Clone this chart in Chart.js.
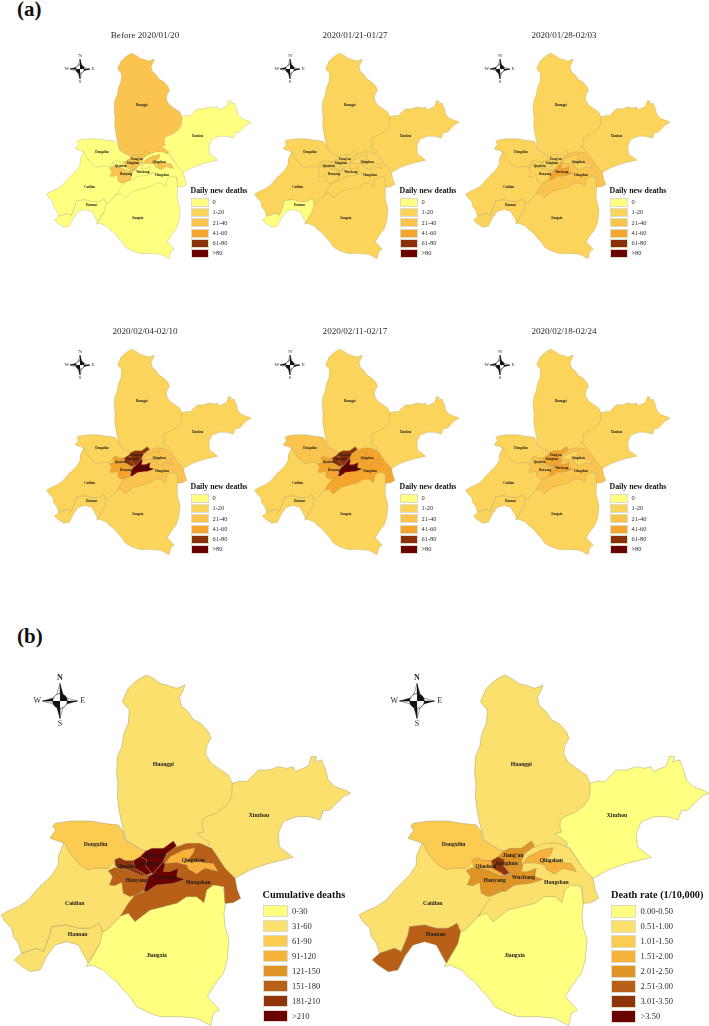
<!DOCTYPE html>
<html>
<head>
<meta charset="utf-8">
<title>Wuhan deaths maps</title>
<script src="https://cdn.jsdelivr.net/npm/chart.js@4"></script>
<style>
  html, body { margin: 0; padding: 0; background: #fff; overflow: hidden; }
  body { position: relative; width: 709px; height: 1026px; font-family: "Liberation Serif", serif; color: #2b2b2b; }
  canvas { position: absolute; }
  .txt { position: absolute; white-space: nowrap; line-height: 1; }
  .sw { position: absolute; box-sizing: border-box; border: 1px solid #dedbc8; }
  svg { position: absolute; overflow: visible; }
</style>
</head>
<body>
<script>
// ── District names, draw order is back to front ────────────
const districts = ["Xinzhou", "Jiangxia", "Caidian", "Hannan", "Dongxihu", "Huangpi", "Hongshan",
  "Qingshan", "Hanyang", "Qiaokou", "Jiang'an", "Jianghan", "Wuchang"];

// ── District outlines, [x, y] in map units ─────────────────
// edges shared with a later district run underneath it
const xinzhou = [[660,480],[697,490],[720,483],[740,485],[760,465],[775,450],[805,450],[835,440],[860,445],[880,440],[885,455],[925,438],[935,408],[950,410],[945,425],[965,420],[975,445],[985,480],[1005,500],[1040,512],[1052,520],[1030,530],[1005,555],[990,570],[970,572],[960,600],[945,595],[925,590],[890,590],[850,605],[835,640],[838,680],[880,712],[840,722],[800,732],[750,750],[705,775],[680,755],[640,690],[590,640],[590,560]];
const jiangxia = [[400,830],[362,888],[320,930],[305,935],[295,980],[265,1030],[258,1040],[275,1035],[310,1050],[335,1075],[350,1085],[370,1110],[390,1130],[410,1160],[450,1180],[480,1190],[540,1190],[590,1195],[632,1217],[640,1180],[658,1170],[645,1155],[622,1130],[640,1100],[670,1060],[682,1020],[687,960],[675,920],[672,880],[678,840],[665,790],[600,790]];
const caidian = [[3,885],[30,870],[55,860],[85,840],[110,810],[130,790],[155,765],[175,735],[175,710],[195,660],[300,680],[430,730],[440,810],[400,835],[362,888],[320,930],[305,935],[297,910],[280,925],[235,925],[200,915],[155,920],[150,945],[130,995],[110,985],[65,1000],[55,970],[40,950],[35,925],[15,905]];
const hannan = [[43,1020],[65,1000],[110,985],[130,995],[150,945],[155,920],[200,915],[235,925],[270,925],[297,910],[308,935],[300,970],[265,1030],[235,975],[200,965],[165,975],[140,1010],[120,1050],[90,1055],[60,1035]];
const dongxihu = [[165,610],[215,603],[270,603],[310,610],[355,615],[370,635],[375,660],[400,675],[425,690],[445,680],[450,722],[345,722],[325,745],[280,745],[265,750],[240,735],[210,700],[195,670],[165,660],[150,655],[160,640],[168,630],[158,620]];
const huangpi = [[440,165],[465,178],[480,190],[510,198],[530,205],[555,195],[548,215],[538,232],[545,258],[565,275],[580,298],[605,312],[625,335],[633,355],[620,378],[617,402],[632,428],[660,448],[685,465],[697,490],[695,530],[680,555],[650,578],[620,590],[607,600],[606,622],[612,636],[592,640],[605,652],[628,668],[620,690],[530,695],[465,700],[445,695],[428,690],[400,675],[378,660],[372,635],[365,610],[358,575],[352,530],[354,490],[350,465],[352,410],[365,380],[372,340],[385,310],[388,270],[367,245],[385,205],[400,190],[420,175]];
const hongshan = [[500,700],[520,685],[560,670],[600,670],[635,685],[655,715],[675,745],[705,775],[712,810],[722,835],[700,848],[675,850],[672,800],[640,795],[620,810],[612,848],[590,830],[560,830],[530,850],[490,860],[450,870],[405,905],[385,880],[362,888],[385,850],[405,825],[432,815],[470,795],[465,770],[490,725]];
const qingshan = [[495,730],[510,710],[550,690],[585,683],[580,700],[560,725],[600,722],[612,728],[640,730],[655,755],[615,745],[590,762],[565,748],[560,735],[530,728]];
const hanyang = [[325,752],[345,742],[355,745],[380,748],[425,768],[440,765],[458,762],[445,770],[432,812],[405,825],[390,830],[370,820],[365,787],[345,797],[328,795],[338,770]];
const qiaokou = [[345,718],[360,713],[375,722],[400,722],[405,745],[440,765],[425,768],[380,748],[355,745],[345,735]];
const jiangan = [[435,695],[455,685],[490,685],[520,663],[530,678],[500,700],[490,725],[458,762],[455,760],[435,735],[440,720],[420,710]];
const jianghan = [[400,722],[420,710],[440,720],[435,735],[455,760],[440,765],[405,745]];
const wuchang = [[490,725],[495,735],[490,755],[510,755],[535,745],[530,770],[555,778],[520,790],[470,795],[440,815],[432,812],[445,770],[458,762]];
const outlines = [xinzhou, jiangxia, caidian, hannan, dongxihu, huangpi, hongshan, qingshan, hanyang, qiaokou, jiangan, jianghan, wuchang];

// where each district name sits, map units, same order as districts
const labelAnchors = [[777,588],[470,1007],[224,852],[233,944],[287,673],[490,433],[595,788],[580,723],[410,783],[383,741],[465,707],[445,730],[496,774]];

// ── Legend classes and palettes ────────────────────────────
const dailyClasses = ["0", "1-20", "21-40", "41-60", "61-80", ">80"];
const dailyColors = ["#FFFF80", "#FCD45C", "#FAC44E", "#F5A52B", "#8C3008", "#6B0000"];
const cumClasses = ["0-30", "31-60", "61-90", "91-120", "121-150", "151-180", "181-210", ">210"];
const rateClasses = ["0.00-0.50", "0.51-1.00", "1.01-1.50", "1.51-2.00", "2.01-2.50", "2.51-3.00", "3.01-3.50", ">3.50"];
const eightColors = ["#FFFF80", "#FCE06E", "#FBCB52", "#F6B23A", "#E09426", "#B86017", "#8F3308", "#6B0000"];

// ── Class per district, same order as districts ────────────
const panelTitles = ["Before 2020/01/20", "2020/01/21-01/27", "2020/01/28-02/03", "2020/02/04-02/10", "2020/02/11-02/17", "2020/02/18-02/24"];
const before0120 = [0, 0, 0, 0, 0, 2, 0, 2, 2, 0, 2, 2, 0];
const jan21to27  = [1, 1, 1, 0, 1, 1, 1, 1, 1, 1, 1, 1, 1];
const jan28feb03 = [1, 1, 1, 1, 1, 1, 2, 1, 1, 1, 1, 1, 3];
const feb04to10  = [1, 1, 1, 1, 1, 1, 2, 2, 3, 3, 4, 4, 5];
const feb11to17  = [1, 1, 1, 1, 2, 1, 3, 3, 3, 3, 4, 4, 5];
const feb18to24  = [1, 1, 1, 1, 1, 1, 2, 1, 2, 2, 3, 3, 3];
const cumulative = [1, 0, 1, 1, 2, 1, 5, 3, 5, 6, 7, 7, 7];
const deathRate  = [0, 0, 1, 5, 2, 1, 1, 3, 4, 3, 4, 6, 4];

const MAP_W = 1056, MAP_H = 1218;

// district labels go through the map's scales
const districtLabels = {
  id: "districtLabels",
  afterDatasetsDraw(chart, args, opts) {
    const { ctx, scales } = chart;
    ctx.save();
    ctx.font = "bold " + opts.size + 'px "Liberation Serif"';
    ctx.fillStyle = "#1a1a1a";
    ctx.textAlign = "center";
    ctx.textBaseline = "middle";
    districts.forEach((name, i) => {
      const [x, y] = labelAnchors[i];
      ctx.fillText(name, scales.x.getPixelForValue(x), scales.y.getPixelForValue(y));
    });
    ctx.restore();
  },
};

function drawMap(left, top, scale, classes, colors, labelSize, lineWidth) {
  const canvas = document.createElement("canvas");
  canvas.width = Math.round(MAP_W * scale);
  canvas.height = Math.round(MAP_H * scale);
  canvas.style.left = left + "px";
  canvas.style.top = top + "px";
  document.body.appendChild(canvas);

  // Chart.js paints the last dataset first, so flip to keep the city on top
  const datasets = districts.map((name, i) => ({
    label: name,
    data: outlines[i].concat([outlines[i][0]]).map(([x, y]) => ({ x, y })),
    showLine: true,
    fill: "shape",
    backgroundColor: colors[classes[i]],
    borderColor: "rgba(150,140,100,0.7)",
    borderWidth: lineWidth,
    pointRadius: 0,
    tension: 0.001, // keeps the fast line path off, it drops vertices
  })).reverse();

  new Chart(canvas, {
    type: "scatter",
    data: { datasets },
    options: {
      responsive: false,
      animation: false,
      events: [],
      plugins: {
        legend: { display: false },
        tooltip: { enabled: false },
        districtLabels: { size: labelSize },
      },
      scales: {
        x: { type: "linear", min: 0, max: MAP_W, display: false },
        y: { type: "linear", min: 0, max: MAP_H, reverse: true, display: false },
      },
    },
    plugins: [districtLabels],
  });
}

function addText(str, x, y, size, opts) {
  const el = document.createElement("div");
  el.className = "txt";
  el.textContent = str;
  el.style.fontSize = size + "px";
  el.style.top = y - size / 2 + "px";
  el.style.left = x + "px";
  if (opts && opts.bold) el.style.fontWeight = "bold";
  if (opts && opts.color) el.style.color = opts.color;
  if (opts && opts.center) el.style.transform = "translateX(-50%)";
  document.body.appendChild(el);
}

function addLegend(title, classes, colors, x, y, g) {
  addText(title, x, y, g.titleSize, { bold: true, color: "#111" });
  classes.forEach((c, i) => {
    const sw = document.createElement("div");
    sw.className = "sw";
    sw.style.left = x + "px";
    sw.style.top = y + g.gap + i * g.step + "px";
    sw.style.width = g.w + "px";
    sw.style.height = g.h + "px";
    sw.style.background = colors[i];
    document.body.appendChild(sw);
    addText(c, x + g.w + g.pad, y + g.gap + i * g.step + g.h / 2, g.size);
  });
}

// compass rose, r is the arm length in px
function addCompass(cx, cy, r, size) {
  const ns = "http://www.w3.org/2000/svg";
  const svg = document.createElementNS(ns, "svg");
  svg.setAttribute("width", 1);
  svg.setAttribute("height", 1);
  svg.style.left = cx + "px";
  svg.style.top = cy + "px";
  const w = r * 0.22;
  const shapes = [
    [`0,${-r} ${w},${-w} 0,0`, "#111"], [`0,${-r} ${-w},${-w} 0,0`, "#fff"],
    [`0,${r} ${w},${w} 0,0`, "#fff"], [`0,${r} ${-w},${w} 0,0`, "#111"],
    [`${r},0 ${w},${w} 0,0`, "#111"], [`${r},0 ${w},${-w} 0,0`, "#fff"],
    [`${-r},0 ${-w},${w} 0,0`, "#fff"], [`${-r},0 ${-w},${-w} 0,0`, "#111"],
  ];
  shapes.forEach(([pts, fill]) => {
    const p = document.createElementNS(ns, "polygon");
    p.setAttribute("points", pts);
    p.setAttribute("fill", fill);
    p.setAttribute("stroke", "#111");
    p.setAttribute("stroke-width", 0.4);
    svg.appendChild(p);
  });
  const c = r * 0.42;
  const ring = document.createElementNS(ns, "circle");
  ring.setAttribute("r", c);
  ring.setAttribute("fill", "#fff");
  ring.setAttribute("stroke", "#111");
  ring.setAttribute("stroke-width", 0.6);
  svg.appendChild(ring);
  [`M0 0 L${c} 0 A${c} ${c} 0 0 0 0 ${-c} Z`, `M0 0 L${-c} 0 A${c} ${c} 0 0 0 0 ${c} Z`].forEach(d => {
    const q = document.createElementNS(ns, "path");
    q.setAttribute("d", d);
    q.setAttribute("fill", "#111");
    svg.appendChild(q);
  });
  document.body.appendChild(svg);
  const gap = r + size * 0.65;
  addText("N", cx, cy - gap, size, { center: true, bold: size > 6 });
  addText("S", cx, cy + gap, size, { center: true });
  addText("W", cx - gap, cy, size, { center: true });
  addText("E", cx + gap, cy, size, { center: true });
}

// ── Panel (a) ──────────────────────────────────────────────
addText("(a)", 17, 9, 21, { bold: true, color: "#111" });
const weekly = [before0120, jan21to27, jan28feb03, feb04to10, feb11to17, feb18to24];
const mapColLeft = [46, 254, 465];
const legendColLeft = [190.5, 399.5, 609.5];
const titleColMid = [145, 355, 564];
const compassColMid = [80, 290, 500];
const smallLegend = { titleSize: 7.8, size: 6.4, w: 18.5, h: 9, step: 10.17, gap: 7, pad: 3.5 };

weekly.forEach((classes, i) => {
  const col = i % 3;
  const dy = i < 3 ? 0 : 296;
  drawMap(mapColLeft[col], 21 + dy, 0.195, classes, dailyColors, 3.2, 0.4);
  addText(panelTitles[i], titleColMid[col], 36 + dy, 9.1, { center: true });
  addCompass(compassColMid[col], 68.5 + dy, 10, 5);
  addLegend("Daily new deaths", dailyClasses, dailyColors, legendColLeft[col], 191 + dy, smallLegend);
});

// ── Panel (b) ──────────────────────────────────────────────
addText("(b)", 17, 636, 21, { bold: true, color: "#111" });
const bigLegend = { titleSize: 10.3, size: 8.5, w: 25, h: 12.6, step: 15, gap: 9.5, pad: 4.5 };
drawMap(0, 620, 1 / 3, cumulative, eightColors, 5.7, 0.6);
drawMap(358, 620, 1 / 3, deathRate, eightColors, 5.7, 0.6);
addCompass(60, 701, 17.5, 8);
addCompass(417, 701, 17.5, 8);
addLegend("Cumulative deaths", cumClasses, eightColors, 262.5, 895, bigLegend);
addLegend("Death rate (1/10,000)", rateClasses, eightColors, 611, 895.5, bigLegend);
</script>
</body>
</html>
